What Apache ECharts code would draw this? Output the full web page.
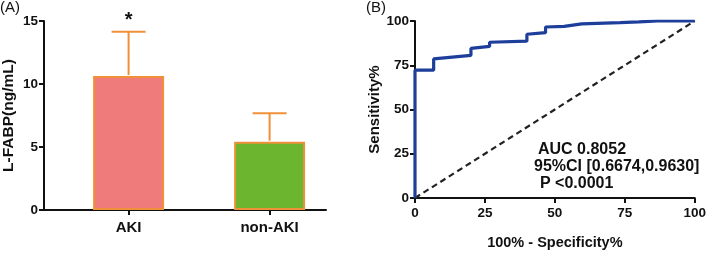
<!DOCTYPE html>
<html>
<head>
<meta charset="utf-8">
<script src="https://cdn.jsdelivr.net/npm/echarts@6/dist/echarts.min.js"></script>
<style>
  html, body { margin: 0; padding: 0; background: #fff; }
  #chart { width: 709px; height: 255px; }
</style>
</head>
<body>
<div id="chart"></div>
<script>
// panel A: L-FABP by group (mean + upper SD)
const groups = ['AKI', 'non-AKI'];
const groupPos = [0, 1];
const meanValues = [10.63, 5.42];
const upperValues = [14.15, 7.67];
const sigMarks = ['*', ''];
const barColors = ['#ef7b7b', '#6cb52e'];

// panel B: ROC curve
const rocFpr = [0, 0, 6.67, 6.67, 20, 20, 26.67, 26.67, 40, 40, 46.67, 46.67, 53.33, 53.33, 59.6, 59.6, 73.3, 73.3, 80, 80, 86.7, 100];
const rocTpr = [0, 72.2, 72.2, 78.6, 80.6, 84.5, 85.7, 88, 88.6, 92.5, 93.4, 96.6, 97, 98.1, 98.4, 98.8, 99.1, 99.4, 99.5, 99.8, 100, 100];
const refLine = [[0, 0], [100, 100]];
const aucLines = ['AUC 0.8052', '95%CI [0.6674,0.9630]', 'P <0.0001'];

const FONT = '"Liberation Sans", Arial, sans-serif';
const orange = '#f0913a';

const chart = echarts.init(document.getElementById('chart'), null, { renderer: 'canvas' });

// keep axes on the grid edge (value x axis would otherwise pull the y axis to x=0)
const axisLineStyle = { show: true, onZero: false, lineStyle: { color: '#111', width: 2 } };
const axisTickStyle = { show: true, length: 5, lineStyle: { color: '#111', width: 2 } };
const labelStyle = { color: '#111', fontWeight: 'bold', fontSize: 13.5, fontFamily: FONT };

let option = {
  animation: false,
  backgroundColor: '#fff',
  grid: [
    { left: 42, right: 383, top: 21, bottom: 45 },
    { left: 415, right: 12, top: 21, bottom: 47 }
  ],
  xAxis: [
    {
      gridIndex: 0,
      type: 'value',
      min: -0.6,
      max: 1.4,
      axisLine: axisLineStyle,
      axisTick: { show: true, length: 5, customValues: groupPos, lineStyle: { color: '#111', width: 2 } },
      splitLine: { show: false },
      axisLabel: {
        customValues: groupPos,
        formatter: function (v) { return groups[groupPos.indexOf(v)]; },
        color: '#111', fontWeight: 'bold', fontSize: 15, fontFamily: FONT, margin: 10
      }
    },
    {
      gridIndex: 1,
      type: 'value',
      min: 0,
      max: 100,
      interval: 25,
      axisLine: axisLineStyle,
      axisTick: axisTickStyle,
      splitLine: { show: false },
      axisLabel: Object.assign({}, labelStyle, { margin: 8 }),
      name: '100% - Specificity%',
      nameLocation: 'middle',
      nameGap: 37,
      nameTextStyle: { color: '#111', fontWeight: 'bold', fontSize: 14.5, fontFamily: FONT }
    }
  ],
  yAxis: [
    {
      gridIndex: 0,
      type: 'value',
      min: 0,
      max: 15,
      interval: 5,
      axisLine: axisLineStyle,
      axisTick: axisTickStyle,
      splitLine: { show: false },
      axisLabel: Object.assign({}, labelStyle, { margin: 6 }),
      name: 'L-FABP(ng/mL)',
      nameLocation: 'middle',
      nameRotate: 90,
      nameGap: 27,
      nameTextStyle: { color: '#111', fontWeight: 'bold', fontSize: 15.5, fontFamily: FONT }
    },
    {
      gridIndex: 1,
      type: 'value',
      min: 0,
      max: 100,
      interval: 25,
      axisLine: axisLineStyle,
      axisTick: axisTickStyle,
      splitLine: { show: false },
      axisLabel: Object.assign({}, labelStyle, { margin: 6 }),
      name: 'Sensitivity%',
      nameLocation: 'middle',
      nameRotate: 90,
      nameGap: 32,
      nameTextStyle: { color: '#111', fontWeight: 'bold', fontSize: 15, fontFamily: FONT }
    }
  ],
  series: [
    {
      type: 'bar',
      xAxisIndex: 0,
      yAxisIndex: 0,
      barWidth: 71,
      data: groupPos.map(function (p, i) {
        return {
          value: [p, meanValues[i]],
          itemStyle: { color: barColors[i], borderColor: orange, borderWidth: 2 }
        };
      }),
      z: 2
    },
    {
      // upper error bars
      type: 'custom',
      xAxisIndex: 0,
      yAxisIndex: 0,
      encode: { x: 0, y: [1, 2] },
      data: groupPos.map(function (p, i) { return [p, meanValues[i], upperValues[i]]; }),
      renderItem: function (params, api) {
        const x = api.value(0);
        const lo = api.coord([x, api.value(1)]);
        const hi = api.coord([x, api.value(2)]);
        const halfCap = 17;
        return {
          type: 'group',
          children: [
            { type: 'line', shape: { x1: lo[0], y1: lo[1] - 1, x2: hi[0], y2: hi[1] },
              style: { stroke: orange, lineWidth: 2 } },
            { type: 'line', shape: { x1: hi[0] - halfCap, y1: hi[1], x2: hi[0] + halfCap, y2: hi[1] },
              style: { stroke: orange, lineWidth: 2 } }
          ]
        };
      },
      z: 3
    },
    {
      // significance marks above the error bars
      type: 'custom',
      xAxisIndex: 0,
      yAxisIndex: 0,
      encode: { x: 0, y: 1 },
      data: groupPos.map(function (p, i) { return [p, upperValues[i], i]; }),
      renderItem: function (params, api) {
        const mark = sigMarks[api.value(2)];
        if (!mark) return null;
        const pt = api.coord([api.value(0), api.value(1)]);
        return {
          type: 'text',
          style: { text: mark, x: pt[0], y: pt[1] - 21, align: 'center', verticalAlign: 'top',
            font: 'bold 20px ' + FONT, fill: '#111' }
        };
      },
      z: 4
    },
    {
      type: 'line',
      xAxisIndex: 1,
      yAxisIndex: 1,
      data: refLine,
      symbol: 'none',
      lineStyle: { color: '#222', width: 2.2, type: [6, 4] },
      z: 2
    },
    {
      type: 'line',
      xAxisIndex: 1,
      yAxisIndex: 1,
      data: rocFpr.map(function (f, i) { return [f, rocTpr[i]]; }),
      symbol: 'none',
      lineStyle: { color: '#1d3e9b', width: 3.2 },
      z: 3
    }
  ],
  graphic: [
    { type: 'text', left: 0, top: 0, style: { text: '(A)', font: '15px ' + FONT, fill: '#111' } },
    { type: 'text', left: 366, top: 0, style: { text: '(B)', font: '15px ' + FONT, fill: '#111' } },
    { type: 'text', left: 538, top: 142, style: { text: aucLines[0], font: 'bold 16px ' + FONT, fill: '#111' } },
    { type: 'text', left: 534, top: 159, style: { text: aucLines[1], font: 'bold 16px ' + FONT, fill: '#111' } },
    { type: 'text', left: 540, top: 176, style: { text: aucLines[2], font: 'bold 16px ' + FONT, fill: '#111' } }
  ]
};

chart.setOption(option);
</script>
</body>
</html>
